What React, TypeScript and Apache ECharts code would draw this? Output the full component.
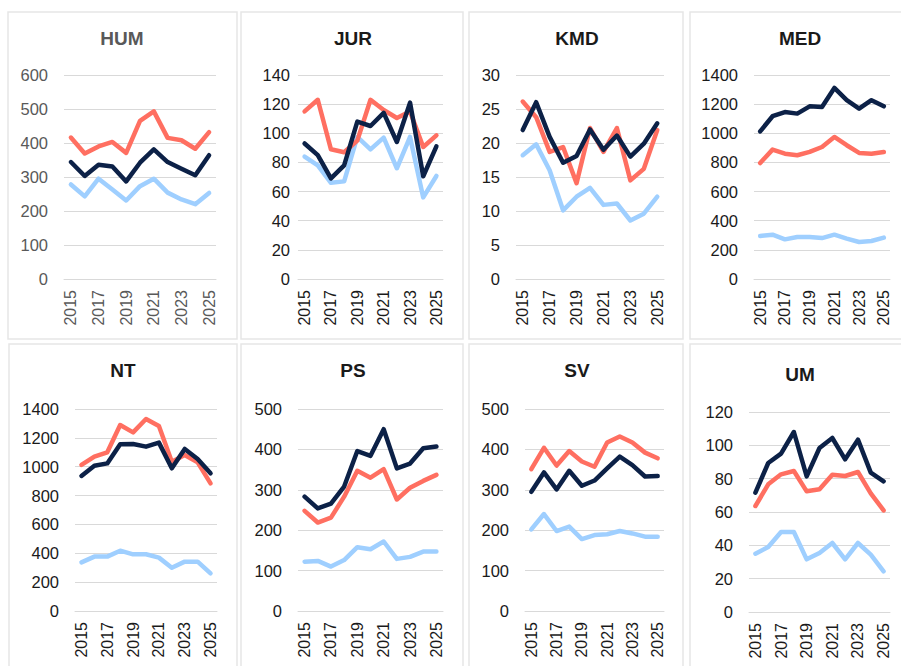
import React, { useEffect, useRef } from "react";
import * as echarts from "echarts";

const years = ["2015", "2016", "2017", "2018", "2019", "2020", "2021", "2022", "2023", "2024", "2025"];
const panelNames = ["HUM", "JUR", "KMD", "MED", "NT", "PS", "SV", "UM"];

const humDark = [344, 303, 336, 331, 287, 342, 381, 344, 324, 305, 364];
const humRed = [416, 369, 390, 403, 371, 465, 493, 415, 408, 383, 432];
const humLight = [278, 243, 295, 263, 231, 273, 295, 254, 234, 220, 253];

const jurDark = [93, 85, 69, 78, 108, 105, 114, 94, 121, 70.5, 91];
const jurRed = [115, 123, 89, 87, 95, 123, 116, 110.5, 115, 90.6, 98.6];
const jurLight = [84, 78, 66, 67, 97.5, 89, 97, 76, 97.5, 56, 70.7];

const kmdDark = [21.9, 26, 20.9, 17.1, 18.1, 22, 19, 21.1, 18, 19.9, 22.9];
const kmdRed = [26.1, 23.8, 18.7, 19.4, 14.1, 22.2, 18.7, 22.2, 14.5, 16.2, 21.9];
const kmdLight = [18.2, 19.8, 16, 10.1, 12.1, 13.4, 10.9, 11.1, 8.6, 9.6, 12.1];

const medDark = [1013, 1117, 1146, 1135, 1185, 1181, 1311, 1227, 1169, 1227, 1185];
const medRed = [796, 888, 860, 849, 872, 906, 975, 918, 865, 860, 872];
const medLight = [295, 304, 272, 288, 288, 281, 304, 277, 254, 261, 284];

const ntDark = [936, 1007, 1023, 1155, 1157, 1139, 1167, 989, 1123, 1053, 954];
const ntRed = [1012, 1070, 1100, 1289, 1238, 1331, 1282, 1035, 1081, 1030, 885];
const ntLight = [337, 377, 377, 418, 393, 393, 370, 300, 342, 342, 261];

const psDark = [283, 254, 266, 308, 396, 384, 450, 353, 365, 403, 407];
const psRed = [248, 219, 231, 283, 347, 330, 351, 276, 305, 322, 337];
const psLight = [122, 124, 110, 126, 158, 153, 172, 129, 134, 147, 147];

const svDark = [295, 343, 301, 347, 310, 323, 353, 382, 361, 333, 334];
const svRed = [351, 404, 360, 396, 370, 357, 417, 432, 417, 392, 378];
const svLight = [202, 240, 198, 209, 178, 188, 190, 198, 192, 184, 184];

const umDark = [71.6, 89.4, 95, 108, 81.4, 98.4, 104.4, 91.6, 103.4, 83.6, 78.4];
const umRed = [63.6, 76.6, 82.6, 84.6, 72.4, 73.6, 82.4, 81.6, 84, 71.2, 61];
const umLight = [35, 39, 48, 48, 31.6, 35.4, 41.4, 31.6, 41.4, 34.4, 24.4];

const darkSeries = [humDark, jurDark, kmdDark, medDark, ntDark, psDark, svDark, umDark];
const redSeries = [humRed, jurRed, kmdRed, medRed, ntRed, psRed, svRed, umRed];
const lightSeries = [humLight, jurLight, kmdLight, medLight, ntLight, psLight, svLight, umLight];
const axisMax = [600, 140, 30, 1400, 1400, 500, 500, 120];
const axisStep = [100, 20, 5, 200, 200, 100, 100, 20];

// layout (pixels)
const gridBoxes = [
  { left: 64, top: 75, width: 152, height: 204, margin: 16 },
  { left: 298, top: 75, width: 145, height: 204, margin: 8 },
  { left: 516, top: 75, width: 148, height: 204, margin: 16 },
  { left: 754, top: 75, width: 136, height: 204, margin: 16 },
  { left: 75, top: 409, width: 142, height: 202, margin: 16 },
  { left: 298, top: 409, width: 145, height: 202, margin: 16 },
  { left: 525, top: 409, width: 139, height: 202, margin: 16 },
  { left: 749, top: 412, width: 141, height: 200, margin: 16 },
];
const titlePos = [
  { x: 122, y: 40 }, { x: 353, y: 40 }, { x: 577, y: 40 }, { x: 800, y: 40 },
  { x: 123, y: 372 }, { x: 353, y: 372 }, { x: 577, y: 372 }, { x: 800, y: 376 },
];
const panelRects = [
  { x: 8, y: 12, w: 229, h: 327 }, { x: 241, y: 12, w: 222, h: 327 },
  { x: 469, y: 12, w: 214, h: 327 }, { x: 690, y: 12, w: 212, h: 327 },
  { x: 9, y: 344, w: 228, h: 340 }, { x: 241, y: 344, w: 222, h: 340 },
  { x: 469, y: 344, w: 214, h: 340 }, { x: 690, y: 344, w: 212, h: 340 },
];

const NAVY = "#0c2147";
const RED = "#ff6f61";
const LIGHT = "#9fcfff";
const FONT = "'Liberation Sans', Arial, sans-serif";

export default function App() {
  const ref = useRef<HTMLDivElement>(null);
  useEffect(() => {
    if (!ref.current) return;
    const chart = echarts.init(ref.current, null, { renderer: "svg" });
    const grids: any[] = [];
    const xAxes: any[] = [];
    const yAxes: any[] = [];
    const series: any[] = [];
    const titles: any[] = [];
    panelNames.forEach((name, i) => {
      const g = gridBoxes[i];
      const textColor = i === 0 ? "#595959" : "#1a1a1a";
      grids.push({ left: g.left, top: g.top, width: g.width, height: g.height, containLabel: false });
      xAxes.push({
        type: "category",
        gridIndex: i,
        data: years,
        boundaryGap: true,
        axisLine: { lineStyle: { color: "#d9d9d9", width: 1 } },
        axisTick: { show: false },
        axisLabel: { interval: 1, rotate: 90, margin: 11, fontSize: 16, color: textColor, fontFamily: FONT },
        splitLine: { show: false },
      });
      yAxes.push({
        type: "value",
        gridIndex: i,
        min: 0,
        max: axisMax[i],
        interval: axisStep[i],
        axisLine: { show: false },
        axisTick: { show: false },
        axisLabel: {
          margin: g.margin,
          fontSize: 16.5,
          color: textColor,
          fontFamily: FONT,
          formatter: (v: number) => String(v),
        },
        splitLine: { lineStyle: { color: "#d9d9d9", width: 1 } },
      });
      const mk = (data: number[], color: string, label: string) => ({
        type: "line",
        name: name + " " + label,
        xAxisIndex: i,
        yAxisIndex: i,
        data,
        showSymbol: false,
        symbol: "none",
        lineStyle: { color, width: 4.5, cap: "round", join: "round" },
        itemStyle: { color },
      });
      series.push(mk(lightSeries[i], LIGHT, "C"));
      series.push(mk(redSeries[i], RED, "B"));
      series.push(mk(darkSeries[i], NAVY, "A"));
      titles.push({
        text: name,
        left: titlePos[i].x,
        top: titlePos[i].y - 11,
        textAlign: "center",
        padding: 0,
        textStyle: { fontSize: 19, fontWeight: "bold", color: textColor, fontFamily: FONT },
      });
    });
    chart.setOption({
      animation: false,
      backgroundColor: "#ffffff",
      title: titles,
      grid: grids,
      xAxis: xAxes,
      yAxis: yAxes,
      series,
      graphic: panelRects.map((r) => ({
        type: "rect",
        shape: { x: r.x, y: r.y, width: r.w, height: r.h },
        style: { fill: "none", stroke: "#e6e6e6", lineWidth: 1.5 },
        z: -10,
        silent: true,
      })),
    });
    return () => chart.dispose();
  }, []);
  return (
    <div
      ref={ref}
      style={{ position: "fixed", left: 0, top: 0, width: 901, height: 666, background: "#fff" }}
    />
  );
}
